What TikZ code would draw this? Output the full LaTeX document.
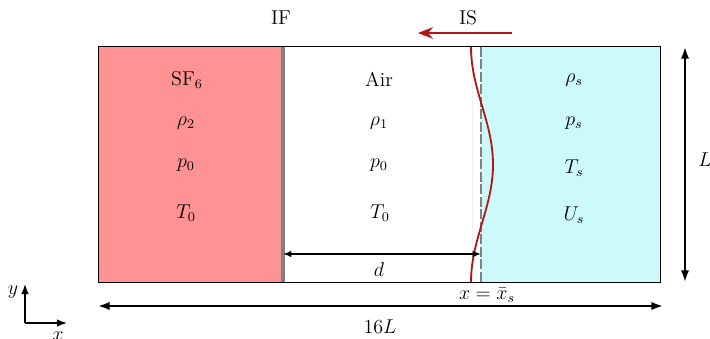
\documentclass[tikz,border=0pt]{standalone}
\usetikzlibrary{arrows.meta}
\definecolor{sfred}{HTML}{FF9292}
\definecolor{aircyan}{HTML}{CCFAFA}
\definecolor{isred}{HTML}{B01818}
\begin{document}
\begin{tikzpicture}[x=0.6pt,y=-0.6pt,
  dimarrow/.style={line width=1.2pt,{Latex[length=7pt,width=5pt]}-{Latex[length=7pt,width=5pt]}},
  smallarrow/.style={line width=1.2pt,{Latex[length=5pt,width=4pt]}-{Latex[length=5pt,width=4pt]}},
  lbl/.style={inner sep=0pt,font=\large},
  var/.style={inner sep=0pt,font=\large}]
\useasboundingbox (0,0) rectangle (710,339);
% regions
\fill[sfred] (98,47) rectangle (283,282);
\fill[aircyan] (481,47) rectangle (660,282);
\draw[black!6] (472,47) -- (472,282);
\draw[line width=0.6pt] (98,47) rectangle (660,282);
\coordinate (ifT) at (283,47);
\coordinate (ifB) at (283,282);
\draw[gray,line width=2.4pt] (ifT) -- (ifB);
\coordinate (isT) at (481,47);
\coordinate (isB) at (481,282);
\draw[gray,line width=1.2pt,dash pattern=on 6pt off 1.5pt] (isT) -- (isB);
% shock curve
\draw[isred,line width=1.1pt,domain=0:1,samples=60,smooth,variable=\t]
  plot ({482-11*cos(360*\t)},{47+235*\t});
% top labels
\node[lbl] (IF) at (281,18) {IF};
\node[lbl] (IS) at (468,18) {IS};
\coordinate (isA) at (512,33);
\coordinate (isE) at (418,33);
\draw[isred,line width=0.9pt,-{Stealth[length=9pt,width=7pt]}] (isA) -- (isE);
% SF6 column
\node[lbl] (sf) at (187,80) {SF$_6$};
\node[var] (r2) at (186,123) {$\rho_2$};
\node[var] (p0a) at (186,165) {$p_0$};
\node[var] (T0a) at (186,213) {$T_0$};
% Air column
\node[lbl] (air) at (379,79) {Air};
\node[var] (r1) at (379,123) {$\rho_1$};
\node[var] (p0b) at (379,165) {$p_0$};
\node[var] (T0b) at (380,213) {$T_0$};
% shocked column
\node[var] (rs) at (574,80) {$\rho_s$};
\node[var] (ps) at (574,123) {$p_s$};
\node[var] (Ts) at (574,168) {$T_s$};
\node[var] (Us) at (574,215) {$U_s$};
% d arrow
\coordinate (dL) at (283,254);
\coordinate (dR) at (481,254);
\draw[smallarrow] (dL) -- (dR);
\node[lbl] (d) at (379,270) {$d$};
\node[lbl] (xs) at (487,295) {$x=\bar{x}_s$};
% 16L arrow
\coordinate (wL) at (98,306);
\coordinate (wR) at (663,306);
\draw[dimarrow] (wL) -- (wR);
\node[lbl] (w) at (380,327) {$16L$};
% L arrow
\coordinate (hT) at (685,47);
\coordinate (hB) at (685,282);
\draw[dimarrow] (hT) -- (hB);
\node[lbl,anchor=west] (h) at (698,160) {$L$};
% axes
\coordinate (o) at (25,323);
\coordinate (ay) at (25,284);
\coordinate (ax) at (67,323);
\draw[line width=0.9pt,-{Latex[length=6pt,width=4.5pt]}] (o) -- (ay);
\draw[line width=0.9pt,-{Latex[length=6pt,width=4.5pt]}] (o) -- (ax);
\node[lbl] (ylab) at (13,292) {$y$};
\node[lbl] (xlab) at (58,336) {$x$};
\end{tikzpicture}
\end{document}
